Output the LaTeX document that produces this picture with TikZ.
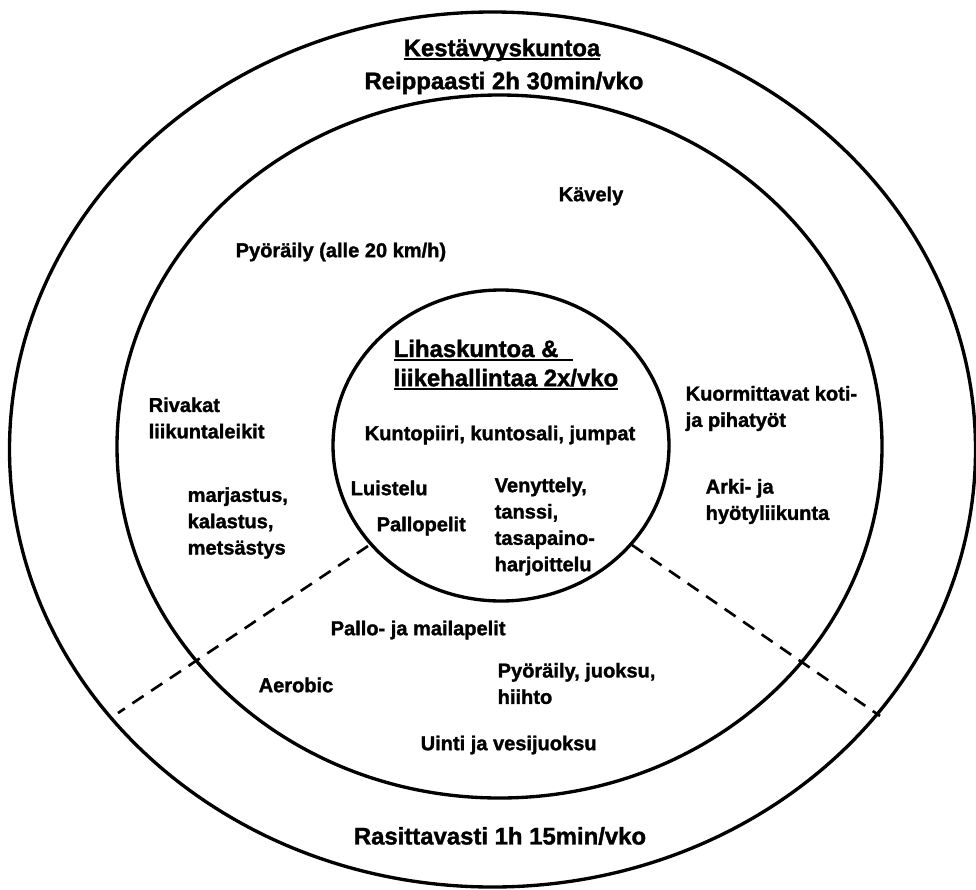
\documentclass[tikz,border=0pt]{standalone}
\usepackage{fontspec}
\setmainfont{Liberation Sans}[BoldFeatures={FakeBold=1.5}]
\usetikzlibrary{positioning}

\newcommand{\ulbar}[1]{\setbox0\hbox{#1}\rlap{\rule[-0.17em]{\wd0}{0.085em}}\box0}

\begin{document}
\begin{tikzpicture}[
  x=1cm, y=1cm,
  ring/.style={draw=black, line width=0.95pt},
  divider/.style={draw=black, line width=0.75pt, dash pattern=on 3.8pt off 2.6pt},
  hdr/.style={font=\fontsize{6.8}{8.3}\selectfont\bfseries, inner sep=0pt, align=center},
  lbl/.style={font=\fontsize{5.7}{7.5}\selectfont\bfseries, inner sep=0pt, align=left, anchor=west},
]
\useasboundingbox (0,0) rectangle (9.76,-8.89);

% ===== rings =====
\draw[ring] (4.925,-4.495) ellipse [x radius=4.83, y radius=4.375];
\draw[ring] (4.995,-4.465) ellipse [x radius=3.825, y radius=3.515];
\draw[ring] (5.01,-4.455) ellipse [x radius=1.68, y radius=1.555];

% ===== dividers =====
\coordinate (dl1) at (3.68,-5.46);
\coordinate (dl2) at (1.18,-7.13);
\coordinate (dr1) at (6.32,-5.45);
\coordinate (dr2) at (8.80,-7.16);
\draw[divider] (dl1) -- (dl2);
\draw[divider] (dr1) -- (dr2);

% ===== outer ring =====
\node[hdr] (kesto) at (5.02,-0.50) {\ulbar{Kestävyyskuntoa}};
\node[hdr] (reipas) at (5.04,-0.83) {Reippaasti 2h 30min/vko};
\node[hdr] (rasittava) at (5.00,-8.36) {Rasittavasti 1h 15min/vko};

% ===== middle ring =====
\node[lbl] (kavely) at (5.58,-1.96) {Kävely};
\node[lbl] (pyoraily) at (2.35,-2.52) {Pyöräily (alle 20 km/h)};
\node[lbl] (rivakat) at (1.48,-4.18) {Rivakat\\liikuntaleikit};
\node[lbl] (marjat) at (1.87,-5.23) {marjastus,\\kalastus,\\metsästys};
\node[lbl] (kotityot) at (6.85,-4.085) {Kuormittavat koti-\\ja pihatyöt};
\node[lbl] (arki) at (7.05,-5.015) {Arki- ja\\hyötyliikunta};
\node[lbl] (mailapelit) at (3.30,-6.30) {Pallo- ja mailapelit};
\node[lbl] (aerobic) at (2.58,-6.85) {Aerobic};
\node[lbl] (juoksu) at (4.97,-6.835) {Pyöräily, juoksu,\\hiihto};
\node[lbl] (uinti) at (4.20,-7.45) {Uinti ja vesijuoksu};

% ===== inner circle =====
\node[hdr,align=left,anchor=west] (lihas) at (3.93,-3.65)
  {\ulbar{Lihaskuntoa \&\hspace{0.6em}}\\\ulbar{liikehallintaa 2x/vko}};
\node[lbl,anchor=center] (kuntopiiri) at (5.00,-4.35) {Kuntopiiri, kuntosali, jumpat};
\node[lbl] (luistelu) at (3.50,-4.88) {Luistelu};
\node[lbl] (pallopelit) at (3.76,-5.26) {Pallopelit};
\node[lbl] (venyttely) at (4.94,-5.265) {Venyttely,\\tanssi,\\tasapaino-\\harjoittelu};

\end{tikzpicture}
\end{document}
